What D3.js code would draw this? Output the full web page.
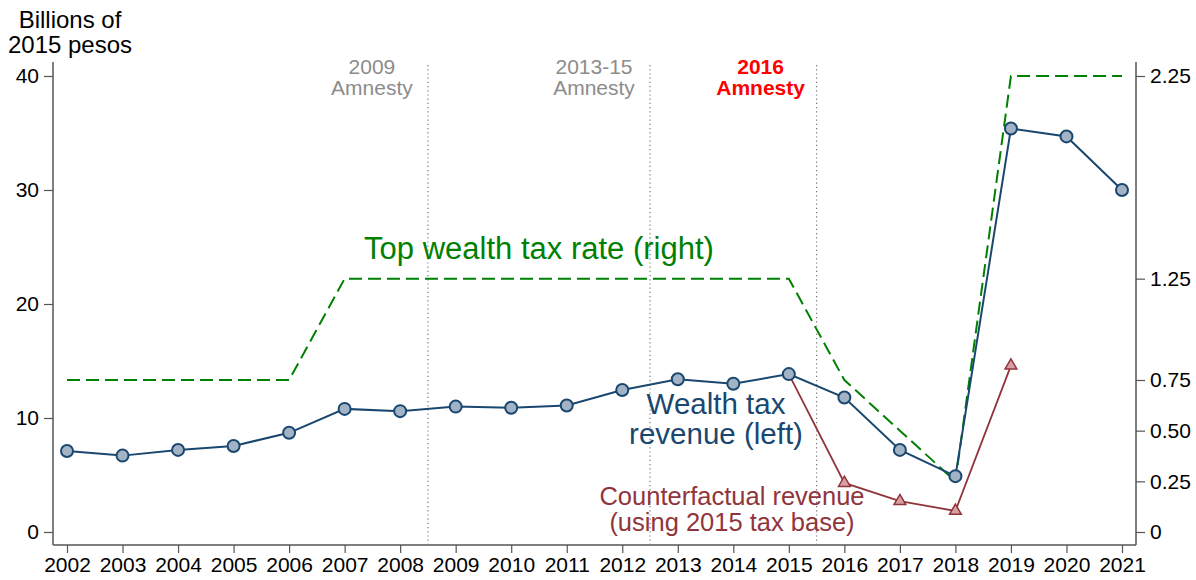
<!DOCTYPE html>
<html>
<head>
<meta charset="utf-8">
<script src="https://cdn.jsdelivr.net/npm/d3@7"></script>
<style>
  body { margin: 0; background: #fff; }
  text { font-family: Arial, "Liberation Sans", sans-serif; }
</style>
</head>
<body>
<div id="chart"></div>
<script>
var years = [2002, 2003, 2004, 2005, 2006, 2007, 2008, 2009, 2010, 2011,
             2012, 2013, 2014, 2015, 2016, 2017, 2018, 2019, 2020, 2021];
var revenue = [7.1, 6.7, 7.2, 7.55, 8.7, 10.8, 10.6, 11.0, 10.9, 11.1,
               12.45, 13.4, 13.0, 13.85, 11.8, 7.2, 4.9, 35.4, 34.7, 30.0];
var taxRate = [0.75, 0.75, 0.75, 0.75, 0.75, 1.25, 1.25, 1.25, 1.25, 1.25,
               1.25, 1.25, 1.25, 1.25, 0.75, 0.5, 0.25, 2.25, 2.25, 2.25];
var cfYears = [2015, 2016, 2017, 2018, 2019];
var cfRevenue = [13.85, 4.3, 2.7, 1.85, 14.6];
var leftTicks = [0, 10, 20, 30, 40];
var rightTicks = [0, 0.25, 0.5, 0.75, 1.25, 2.25];
var amnesties = [
  {x: 2008.5, l1: "2009", l2: "Amnesty", color: "#8c8c8c", bold: false},
  {x: 2012.5, l1: "2013-15", l2: "Amnesty", color: "#8c8c8c", bold: false},
  {x: 2015.5, l1: "2016", l2: "Amnesty", color: "#ff0000", bold: true}
];

var svgWidth = 1196, svgHeight = 580;
var navy = "#1a476f", green = "#008000", cranberry = "#90353b";

var svg = d3.select("#chart").append("svg")
  .attr("width", svgWidth).attr("height", svgHeight);

var x = d3.scaleLinear().domain([2002, 2021]).range([67, 1122]);
var y = d3.scaleLinear().domain([0, 40]).range([532, 76]);
var yR = d3.scaleLinear().domain([0, 2.25]).range([532, 76]);

var axisLeft = 53, axisRight = 1136, axisBottom = 545, axisTop = 62;

// axis lines
svg.append("line").attr("x1", axisLeft).attr("x2", axisLeft)
  .attr("y1", axisTop).attr("y2", axisBottom).attr("stroke", "#555").attr("stroke-width", 1.5);
svg.append("line").attr("x1", axisRight).attr("x2", axisRight)
  .attr("y1", axisTop).attr("y2", axisBottom).attr("stroke", "#555").attr("stroke-width", 1.5);
svg.append("line").attr("x1", axisLeft).attr("x2", axisRight)
  .attr("y1", axisBottom).attr("y2", axisBottom).attr("stroke", "#555").attr("stroke-width", 1.5);

// left axis
var gl = svg.append("g").attr("transform", `translate(${axisLeft},0)`)
  .call(d3.axisLeft(y).tickValues(leftTicks).tickSize(9).tickPadding(5));
// right axis
var gr = svg.append("g").attr("transform", `translate(${axisRight},0)`)
  .call(d3.axisRight(yR).tickValues(rightTicks).tickSize(9).tickPadding(5)
    .tickFormat(d => d === 0 ? "0" : d3.format(".2f")(d)));
// bottom axis
var gb = svg.append("g").attr("transform", `translate(0,${axisBottom})`)
  .call(d3.axisBottom(x).tickValues(years).tickSize(8).tickPadding(4).tickFormat(d3.format("d")));

[gl, gr, gb].forEach(function(g) {
  g.attr("font-size", 21);
  g.select(".domain").remove();
  g.selectAll(".tick line").attr("stroke", "#555").attr("stroke-width", 1.2);
  g.selectAll(".tick text").attr("fill", "#000")
    .style("font-family", "Arial, 'Liberation Sans', sans-serif");
});

// y title
svg.append("text").attr("x", 70).attr("y", 28).attr("text-anchor", "middle")
  .attr("font-size", 24).text("Billions of");
svg.append("text").attr("x", 70).attr("y", 53).attr("text-anchor", "middle")
  .attr("font-size", 24).text("2015 pesos");

// amnesty lines
amnesties.forEach(function(a) {
  svg.append("line").attr("x1", x(a.x)).attr("x2", x(a.x))
    .attr("y1", 65).attr("y2", axisBottom)
    .attr("stroke", "#777").attr("stroke-width", 1.2).attr("stroke-dasharray", "1.2,3");
  var tx = x(a.x) - 56;
  svg.append("text").attr("x", tx).attr("y", 74).attr("text-anchor", "middle")
    .attr("font-size", 21).attr("fill", a.color).attr("font-weight", a.bold ? "bold" : "normal")
    .text(a.l1);
  svg.append("text").attr("x", tx).attr("y", 95).attr("text-anchor", "middle")
    .attr("font-size", 21).attr("fill", a.color).attr("font-weight", a.bold ? "bold" : "normal")
    .text(a.l2);
});

// tax rate line
svg.append("path")
  .attr("d", d3.line().x((d, i) => x(years[i])).y(d => yR(d))(taxRate))
  .attr("fill", "none").attr("stroke", green).attr("stroke-width", 2)
  .attr("stroke-dasharray", "13,6");

// counterfactual
svg.append("path")
  .attr("d", d3.line().x((d, i) => x(cfYears[i])).y(d => y(d))(cfRevenue))
  .attr("fill", "none").attr("stroke", cranberry).attr("stroke-width", 1.8);
svg.selectAll(".tri").data(cfRevenue.slice(1)).enter().append("path")
  .attr("class", "tri")
  .attr("transform", (d, i) => `translate(${x(cfYears[i + 1])},${y(d)})`)
  .attr("d", d3.symbol().type(d3.symbolTriangle).size(60))
  .attr("fill", "#d9a0a4").attr("stroke", cranberry).attr("stroke-width", 1.5);

// revenue
svg.append("path")
  .attr("d", d3.line().x((d, i) => x(years[i])).y(d => y(d))(revenue))
  .attr("fill", "none").attr("stroke", navy).attr("stroke-width", 2);
svg.selectAll(".dot").data(revenue).enter().append("circle")
  .attr("class", "dot")
  .attr("cx", (d, i) => x(years[i])).attr("cy", d => y(d)).attr("r", 6)
  .attr("fill", "#a3b3c6").attr("stroke", navy).attr("stroke-width", 2);

// labels
svg.append("text").attr("x", 539).attr("y", 259).attr("text-anchor", "middle")
  .attr("font-size", 31).attr("fill", green).text("Top wealth tax rate (right)");
svg.append("text").attr("x", 716).attr("y", 414).attr("text-anchor", "middle")
  .attr("font-size", 29.5).attr("fill", navy).text("Wealth tax");
svg.append("text").attr("x", 716).attr("y", 444).attr("text-anchor", "middle")
  .attr("font-size", 29.5).attr("fill", navy).text("revenue (left)");
svg.append("text").attr("x", 732).attr("y", 505).attr("text-anchor", "middle")
  .attr("font-size", 25.5).attr("fill", cranberry).text("Counterfactual revenue");
svg.append("text").attr("x", 732).attr("y", 531).attr("text-anchor", "middle")
  .attr("font-size", 25.5).attr("fill", cranberry).text("(using 2015 tax base)");
</script>
</body>
</html>
